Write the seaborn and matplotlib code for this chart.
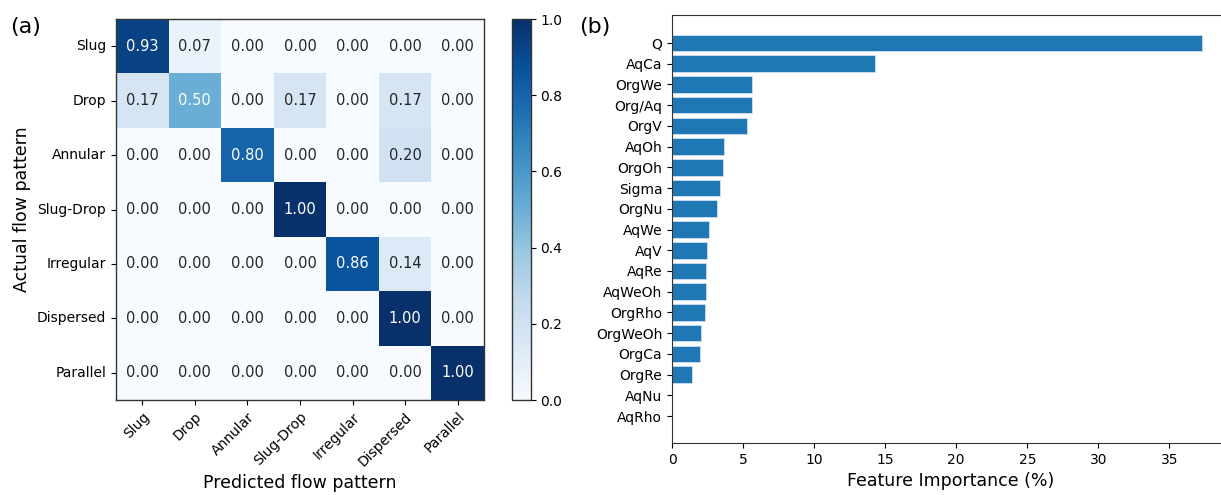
import numpy as np
import matplotlib
matplotlib.use("Agg")
import matplotlib.pyplot as plt
import seaborn as sns

# confusion matrix data (rows = actual, cols = predicted)
patterns = ["Slug", "Drop", "Annular", "Slug-Drop", "Irregular", "Dispersed", "Parallel"]
row_slug = [0.93, 0.07, 0.00, 0.00, 0.00, 0.00, 0.00]
row_drop = [0.17, 0.50, 0.00, 0.17, 0.00, 0.17, 0.00]
row_annular = [0.00, 0.00, 0.80, 0.00, 0.00, 0.20, 0.00]
row_slugdrop = [0.00, 0.00, 0.00, 1.00, 0.00, 0.00, 0.00]
row_irregular = [0.00, 0.00, 0.00, 0.00, 0.86, 0.14, 0.00]
row_dispersed = [0.00, 0.00, 0.00, 0.00, 0.00, 1.00, 0.00]
row_parallel = [0.00, 0.00, 0.00, 0.00, 0.00, 0.00, 1.00]

# feature importance data
features = ["Q", "AqCa", "OrgWe", "Org/Aq", "OrgV", "AqOh", "OrgOh", "Sigma", "OrgNu",
            "AqWe", "AqV", "AqRe", "AqWeOh", "OrgRho", "OrgWeOh", "OrgCa", "OrgRe",
            "AqNu", "AqRho"]
importance = [37.3, 14.3, 5.66, 5.61, 5.28, 3.66, 3.59, 3.38, 3.15,
              2.58, 2.46, 2.42, 2.37, 2.32, 2.02, 2.00, 1.41,
              0.0, 0.0]

mat = np.array([row_slug, row_drop, row_annular, row_slugdrop,
                row_irregular, row_dispersed, row_parallel])

fig = plt.figure(figsize=(12.21, 4.95), dpi=100)

# (a) confusion matrix
ax1 = fig.add_axes([0.0950, 0.1919, 0.3014, 0.7697])
cax = fig.add_axes([0.4196, 0.1919, 0.0151, 0.7697])
sns.heatmap(mat, ax=ax1, cbar_ax=cax, cmap="Blues", vmin=0, vmax=1,
            annot=True, fmt=".2f", annot_kws={"fontsize": 10.5},
            xticklabels=patterns, yticklabels=patterns, square=False)
for sp in ax1.spines.values():
    sp.set_visible(True)
    sp.set_linewidth(1.0)
    sp.set_color("#333333")
ax1.tick_params(axis="both", labelsize=10, length=3.5)
ax1.set_xticklabels(patterns, rotation=45, ha="right", rotation_mode="anchor")
ax1.set_yticklabels(patterns, rotation=0)
ax1.set_xlabel("Predicted flow pattern", fontsize=12.5)
ax1.set_ylabel("Actual flow pattern", fontsize=12.5)
cb = ax1.collections[0].colorbar
cb.outline.set_visible(True)
cb.outline.set_linewidth(1.0)
cb.outline.set_edgecolor("#333333")
cb.set_ticks([0.0, 0.2, 0.4, 0.6, 0.8, 1.0])
cax.tick_params(labelsize=10, length=3.5)

# (b) feature importance
ax2 = fig.add_axes([0.5504, 0.1051, 0.4562, 0.8646])
sns.barplot(x=importance, y=features, ax=ax2, orient="h", color="#1f77b4",
            saturation=1, width=0.8, edgecolor="#cfe0f0", linewidth=0.6)
ax2.set_xlim(0, 39.2)
ax2.set_ylim(19.3, -1.35)
ax2.set_xticks([0, 5, 10, 15, 20, 25, 30, 35])
ax2.tick_params(axis="both", labelsize=10, length=3.5)
ax2.set_xlabel("Feature Importance (%)", fontsize=12.5)
ax2.set_ylabel("")
for sp in ax2.spines.values():
    sp.set_color("#333333")

fig.text(0.008, 0.945, "(a)", fontsize=16, va="center")
fig.text(0.474, 0.945, "(b)", fontsize=16, va="center")

fig.savefig("out.png", dpi=100)
